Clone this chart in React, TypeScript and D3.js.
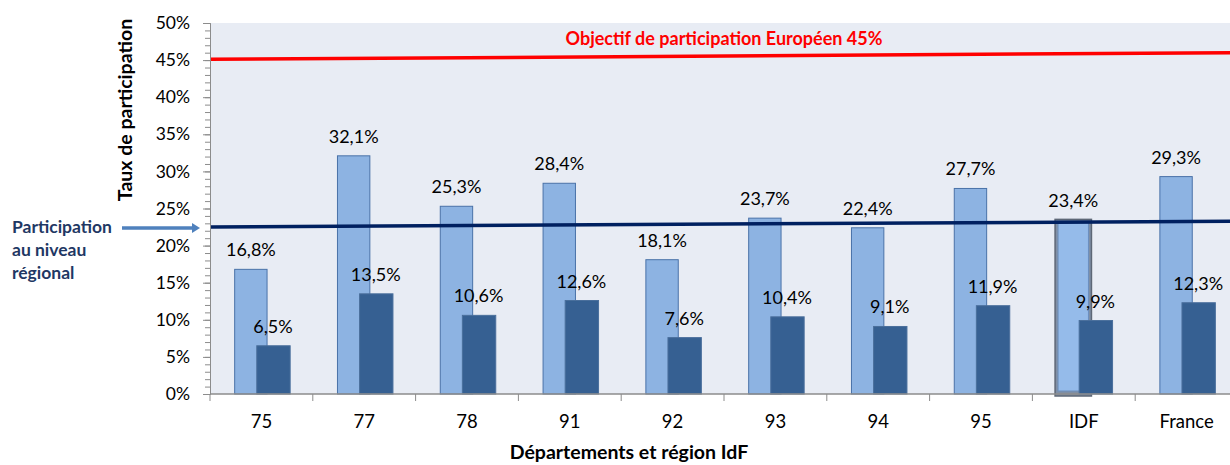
import React, { useEffect, useRef } from "react";
import * as d3 from "d3";

const categories = ["75", "77", "78", "91", "92", "93", "94", "95", "IDF", "France"];
const participation = [16.8, 32.1, 25.3, 28.4, 18.1, 23.7, 22.4, 27.7, 23.4, 29.3];
const participationB = [6.5, 13.5, 10.6, 12.6, 7.6, 10.4, 9.1, 11.9, 9.9, 12.3];
const yTicks = [0, 5, 10, 15, 20, 25, 30, 35, 40, 45, 50];
// reference lines, value at left and right edge of the plot
const objectiveLine = [45.1, 46.0];
const regionalLine = [22.5, 23.3];

const FONT = "Lato, 'Open Sans', sans-serif";
const fmt = (v: number) => v.toFixed(1).replace(".", ",") + "%";

const ParticipationChart = () => {
  const ref = useRef<SVGSVGElement>(null);

  useEffect(() => {
    const width = 1230, height = 465;
    const left = 210, right = 1238, top = 23, bottom = 394;

    const svg = d3.select(ref.current);
    svg.selectAll("*").remove();
    svg.attr("width", width).attr("height", height).style("font-family", FONT);

    const x = d3.scaleBand().domain(categories).range([left, right]).padding(0);
    const y = d3.scaleLinear().domain([0, 50]).range([bottom, top]);
    const bw = x.bandwidth();
    const barW = bw * 0.315;
    const lightX = (c: string) => (x(c) as number) + bw * 0.24;
    const darkX = (c: string) => lightX(c) + bw * 0.215;

    // plot background
    svg.append("rect")
      .attr("x", left).attr("y", top)
      .attr("width", right - left).attr("height", bottom - top)
      .attr("fill", "#e8ecf4");

    // light bars
    categories.forEach((c, i) => {
      const v = participation[i];
      if (c === "IDF") {
        svg.append("rect")
          .attr("x", lightX(c) - 2).attr("y", y(v) - 1)
          .attr("width", barW + 4).attr("height", bottom - y(v) + 3)
          .attr("fill", "#7f8fa6").attr("stroke", "#5d6776").attr("stroke-width", 1.5);
        svg.append("rect")
          .attr("x", lightX(c) + 1).attr("y", y(v) + 2)
          .attr("width", barW - 2).attr("height", bottom - y(v) - 5)
          .attr("fill", "#95bbea").attr("stroke", "#6b8fbf").attr("stroke-width", 1);
      } else {
        svg.append("rect")
          .attr("x", lightX(c)).attr("y", y(v))
          .attr("width", barW).attr("height", bottom - y(v))
          .attr("fill", "#8db3e2").attr("stroke", "#4a72a8").attr("stroke-width", 1);
      }
    });

    // dark bars
    svg.selectAll(".dark")
      .data(participationB)
      .enter()
      .append("rect")
      .attr("x", (_, i) => darkX(categories[i]))
      .attr("y", d => y(d))
      .attr("width", barW + 1)
      .attr("height", d => bottom - y(d))
      .attr("fill", "#366092")
      .attr("stroke", "#4a6f9c")
      .attr("stroke-width", 1);

    // reference lines
    svg.append("line")
      .attr("x1", left).attr("x2", width)
      .attr("y1", y(objectiveLine[0]))
      .attr("y2", y(objectiveLine[0] + (objectiveLine[1] - objectiveLine[0]) * (width - left) / (right - left)))
      .attr("stroke", "#ff0000").attr("stroke-width", 3.5);
    svg.append("line")
      .attr("x1", left).attr("x2", width)
      .attr("y1", y(regionalLine[0]))
      .attr("y2", y(regionalLine[0] + (regionalLine[1] - regionalLine[0]) * (width - left) / (right - left)))
      .attr("stroke", "#002060").attr("stroke-width", 3.5);

    // value labels
    categories.forEach((c, i) => {
      svg.append("text")
        .attr("x", lightX(c) + barW / 2).attr("y", y(participation[i]) - 13)
        .attr("text-anchor", "middle").attr("font-size", 18).attr("fill", "#000")
        .text(fmt(participation[i]));
      svg.append("text")
        .attr("x", darkX(c) + barW / 2).attr("y", y(participationB[i]) - 13)
        .attr("text-anchor", "middle").attr("font-size", 18).attr("fill", "#000")
        .text(fmt(participationB[i]));
    });

    // y axis
    const minor = d3.range(0, 51, 1);
    svg.append("g")
      .attr("transform", `translate(${left},0)`)
      .call(d3.axisLeft(y).tickValues(minor).tickSize(5).tickFormat(() => ""))
      .call(g => g.selectAll("line, path").attr("stroke", "#8c8c8c"));
    svg.append("g")
      .attr("transform", `translate(${left},0)`)
      .call(d3.axisLeft(y).tickValues(yTicks).tickSize(7).tickPadding(13).tickFormat(d => `${d}%`))
      .call(g => g.selectAll("line, path").attr("stroke", "#8c8c8c"))
      .call(g => g.selectAll("text").attr("font-size", 17.5).attr("font-family", FONT).attr("fill", "#000"));

    // x axis
    const xg = svg.append("g");
    xg.append("line")
      .attr("x1", left).attr("x2", width).attr("y1", bottom).attr("y2", bottom)
      .attr("stroke", "#8c8c8c").attr("stroke-width", 1.5);
    categories.forEach(c => {
      const x0 = x(c) as number;
      xg.append("line")
        .attr("x1", x0).attr("x2", x0).attr("y1", bottom).attr("y2", bottom + 7)
        .attr("stroke", "#8c8c8c");
      xg.append("text")
        .attr("x", x0 + bw / 2).attr("y", 428)
        .attr("text-anchor", "middle").attr("font-size", 18.5).attr("fill", "#000")
        .text(c);
    });

    // titles
    svg.append("text")
      .attr("x", 629).attr("y", 459)
      .attr("text-anchor", "middle").attr("font-size", 19.5).attr("font-weight", "bold")
      .text("Départements et région IdF");
    svg.append("text")
      .attr("transform", "translate(132,110) rotate(-90)")
      .attr("text-anchor", "middle").attr("font-size", 19.5).attr("font-weight", "bold")
      .text("Taux de participation");
    svg.append("text")
      .attr("x", 724).attr("y", 45)
      .attr("text-anchor", "middle").attr("font-size", 18).attr("font-weight", "bold")
      .attr("fill", "#ff0000")
      .text("Objectif de participation Européen 45%");

    // regional annotation with arrow
    ["Participation", "au niveau", "régional"].forEach((t, i) => {
      svg.append("text")
        .attr("x", 12).attr("y", 233 + i * 23)
        .attr("font-size", 17.5).attr("font-weight", "bold").attr("fill", "#1f3864")
        .text(t);
    });
    svg.append("line")
      .attr("x1", 122).attr("x2", 193).attr("y1", 228).attr("y2", 228)
      .attr("stroke", "#4f81bd").attr("stroke-width", 3.5);
    svg.append("path")
      .attr("d", "M192,223 L200,228 L192,233 Z")
      .attr("fill", "#4f81bd");
  }, []);

  return <svg ref={ref} style={{ position: "absolute", left: 0, top: 0 }}></svg>;
};

export default function App() {
  return <ParticipationChart />;
}
